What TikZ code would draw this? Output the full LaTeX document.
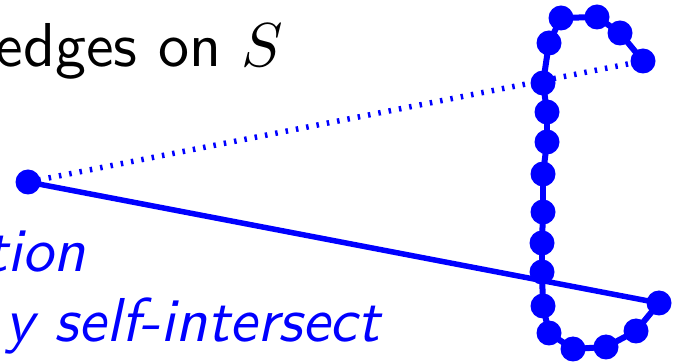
\documentclass[tikz,border=0pt]{standalone}
\usepackage{fontspec}
\setsansfont{lmsans10-regular.otf}[ItalicFont=lmsans10-oblique.otf]
\newfontfamily\lmmath{Latin Modern Math}

\begin{document}
\begin{tikzpicture}[x=1pt, y=-1pt,
    dot/.style={circle, fill=blue, inner sep=0pt, minimum size=25pt},
    chainline/.style={blue, line width=6pt},
    bigtext/.style={font=\sffamily\fontsize{62}{70}\selectfont, inner sep=0pt}]

\useasboundingbox (0,0) rectangle (678,363);
\clip (0,0) rectangle (678,363);

% ================================================================
%  Texto (recortado por el borde izquierdo)
% ================================================================
\node[bigtext, anchor=base east] (head) at (280, 67) {edges on {\lmmath 𝑆}};
\node[bigtext, anchor=base east, blue, font=\sffamily\itshape\fontsize{62}{70}\selectfont]
    (linea1) at (86, 272) {tion};
\node[bigtext, anchor=base east, blue, font=\sffamily\itshape\fontsize{62}{70}\selectfont]
    (linea2) at (380, 342) {y self-intersect};

% ================================================================
%  Curva S: cadena de puntos
% ================================================================
\foreach \px/\py [count=\i] in {643/61, 620/33, 597/17, 561/18, 549/43, 543/83,
    547/112, 547/142, 543/174, 543/212, 542/243, 542/272, 543/306, 549/333,
    573/349, 606/347, 636/331, 659/303}{
    \node[dot] (s\i) at (\px, \py) {};
}
\foreach \i [evaluate=\i as \j using int(\i+1)] in {1,...,17}{
    \draw[chainline] (s\i.center) -- (s\j.center);
}

% Punto exterior y sus dos aristas
\node[dot] (p) at (28, 182) {};
\draw[blue, line width=5.5pt, dash pattern=on 2.5pt off 8pt] (p.center) -- (s1.center);
\draw[blue, line width=5.5pt] (p.center) -- (s18.center);

\end{tikzpicture}
\end{document}
